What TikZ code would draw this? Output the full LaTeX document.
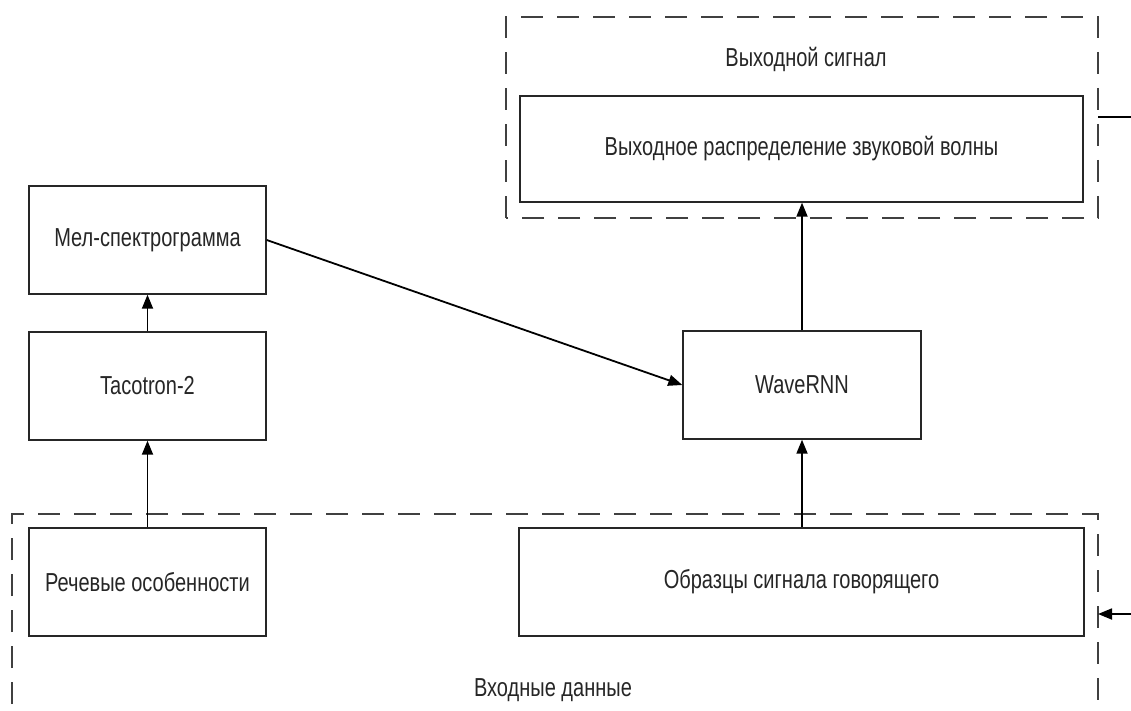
\documentclass[tikz,border=0pt]{standalone}
\usepackage{fontspec}
\newfontfamily\gost[FakeStretch=0.77]{Liberation Sans}
\usetikzlibrary{arrows.meta}
\tikzset{
  blk/.style={draw=black!85, line width=1.4pt, fill=white, minimum width=237pt, minimum height=108pt, inner sep=0pt, font=\gost\fontsize{26}{31}\selectfont, text=black!85},
  grp/.style={draw=black!75, line width=1.5pt, dash pattern=on 22pt off 14pt},
  lbl/.style={font=\gost\fontsize{26}{31}\selectfont, text=black!85, inner sep=0pt},
  arr/.style={draw=black, line width=1.8pt, -{Triangle[length=14pt,width=11pt]}},
  ln/.style={draw=black, line width=1.8pt}
}
\begin{document}
\begin{tikzpicture}[x=1pt,y=-1pt]
\useasboundingbox (0,0) rectangle (1131,711);
% groups
\draw[grp] (506,218) rectangle (1098,17);
\draw[grp] (12,740) -- (12,514) -- (1098,514) -- (1098,740);
\node[lbl] (outlbl) at (806,59) {Выходной сигнал};
\node[lbl] (inlbl) at (553,690) {Входные данные};
% blocks
\node[blk] (mel) at (147.5,240) {Мел-спектрограмма};
\node[blk] (taco) at (147.5,386) {Tacotron-2};
\node[blk] (rech) at (147.5,582) {Речевые особенности};
\node[blk, minimum width=238pt] (wave) at (802,385) {WaveRNN};
\node[blk, minimum width=565pt] (obr) at (801.5,582) {Образцы сигнала говорящего};
\node[blk, minimum width=563pt, minimum height=106pt] (vyh) at (801.5,149) {Выходное распределение звуковой волны};
% external connectors
\coordinate (topgrp) at (1098,117);
\coordinate (topout) at (1131,117);
\coordinate (botgrp) at (1098,614);
\coordinate (botin) at (1131,614);
\draw[ln] (topgrp) -- (topout);
\draw[arr] (botin) -- (botgrp);
% arrows
\draw[arr] (rech.north) -- (taco.south);
\draw[arr] (taco.north) -- (mel.south);
\draw[arr] (mel.east) -- (wave.west);
\draw[arr] (obr.north -| wave.south) -- (wave.south);
\draw[arr] (wave.north) -- (vyh.south -| wave.north);
\end{tikzpicture}
\end{document}
